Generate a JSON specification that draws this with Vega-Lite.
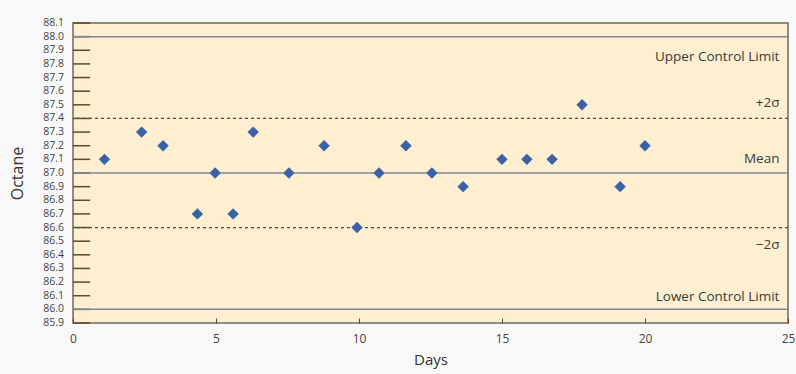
{
  "$schema": "https://vega.github.io/schema/vega-lite/v6.json",
  "width": 715,
  "height": 300,
  "autosize": "none",
  "padding": {"left": 73, "top": 23, "right": 8, "bottom": 51},
  "background": "#f8f8f8",
  "config": {
    "view": {"fill": "#fdefcf", "stroke": "#6e6a62", "strokeWidth": 1.5},
    "font": "Open Sans",
    "axis": {"labelBound": false, "labelFlush": false, "grid": false, "domain": false}
  },
  "datasets": {
    "points": [
      {"day": 1.1, "octane": 87.1}, {"day": 2.4, "octane": 87.3}, {"day": 3.15, "octane": 87.2},
      {"day": 4.35, "octane": 86.7}, {"day": 4.97, "octane": 87.0}, {"day": 5.6, "octane": 86.7},
      {"day": 6.3, "octane": 87.3}, {"day": 7.55, "octane": 87.0}, {"day": 8.78, "octane": 87.2},
      {"day": 9.93, "octane": 86.6}, {"day": 10.7, "octane": 87.0}, {"day": 11.64, "octane": 87.2},
      {"day": 12.55, "octane": 87.0}, {"day": 13.64, "octane": 86.9}, {"day": 15.0, "octane": 87.1},
      {"day": 15.87, "octane": 87.1}, {"day": 16.75, "octane": 87.1}, {"day": 17.8, "octane": 87.5},
      {"day": 19.13, "octane": 86.9}, {"day": 20.0, "octane": 87.2}
    ],
    "solid": [{"v": 88.0}, {"v": 87.0}, {"v": 86.0}],
    "dashed": [{"v": 87.4}, {"v": 86.6}],
    "labels": [
      {"day": 24.7, "v": 87.85, "t": "Upper Control Limit"},
      {"day": 24.7, "v": 87.51, "t": "+2σ"},
      {"day": 24.7, "v": 87.1, "t": "Mean"},
      {"day": 24.7, "v": 86.47, "t": "−2σ"},
      {"day": 24.7, "v": 86.09, "t": "Lower Control Limit"}
    ],
    "yticks": [
      {"v": 88.1}, {"v": 88.0}, {"v": 87.9}, {"v": 87.8}, {"v": 87.7}, {"v": 87.6}, {"v": 87.5},
      {"v": 87.4}, {"v": 87.3}, {"v": 87.2}, {"v": 87.1}, {"v": 87.0}, {"v": 86.9}, {"v": 86.8},
      {"v": 86.7}, {"v": 86.6}, {"v": 86.5}, {"v": 86.4}, {"v": 86.3}, {"v": 86.2}, {"v": 86.1},
      {"v": 86.0}, {"v": 85.9}
    ]
  },
  "layer": [
    {
      "data": {"name": "yticks"},
      "mark": {"type": "rule", "color": "#5c4a2e", "strokeWidth": 1.5},
      "encoding": {
        "y": {
          "field": "v", "type": "quantitative",
          "scale": {"domain": [85.9, 88.1], "nice": false, "zero": false},
          "axis": {
            "title": "Octane", "titleFontSize": 16, "titleFontWeight": "normal", "titleColor": "#333", "titlePadding": 48,
            "labels": false, "ticks": false
          }
        },
        "x": {
          "datum": 0, "type": "quantitative",
          "scale": {"domain": [0, 25], "nice": false, "zero": false},
          "axis": {
            "title": "Days", "titleFontSize": 15, "titleFontWeight": "normal", "titleColor": "#333", "titlePadding": 8,
            "values": [0, 5, 10, 15, 20, 25], "format": "d", "labelFontSize": 12, "labelColor": "#444",
            "tickSize": -5, "tickColor": "#5c4a2e", "labelPadding": 15
          }
        },
        "x2": {"datum": 0.6}
      }
    },
    {
      "data": {"name": "yticks"},
      "mark": {"type": "text", "align": "right", "baseline": "middle", "dx": -9, "fontSize": 10.5, "color": "#444"},
      "encoding": {
        "y": {"field": "v", "type": "quantitative"},
        "x": {"datum": 0, "type": "quantitative"},
        "text": {"field": "v", "type": "quantitative", "format": ".1f"}
      }
    },
    {
      "data": {"name": "solid"},
      "mark": {"type": "rule", "color": "#7f8891", "strokeWidth": 1.5},
      "encoding": {"y": {"field": "v", "type": "quantitative"}}
    },
    {
      "data": {"name": "dashed"},
      "mark": {"type": "rule", "color": "#4a4c50", "strokeWidth": 1.2, "strokeDash": [3, 3]},
      "encoding": {"y": {"field": "v", "type": "quantitative"}}
    },
    {
      "data": {"name": "labels"},
      "mark": {"type": "text", "align": "right", "baseline": "middle", "fontSize": 13.5, "color": "#3a3a3a"},
      "encoding": {
        "x": {"field": "day", "type": "quantitative"},
        "y": {"field": "v", "type": "quantitative"},
        "text": {"field": "t"}
      }
    },
    {
      "data": {"name": "points"},
      "mark": {"type": "point", "shape": "diamond", "filled": true, "size": 130, "color": "#3b62a6", "opacity": 1},
      "encoding": {
        "x": {"field": "day", "type": "quantitative"},
        "y": {"field": "octane", "type": "quantitative"}
      }
    }
  ]
}
